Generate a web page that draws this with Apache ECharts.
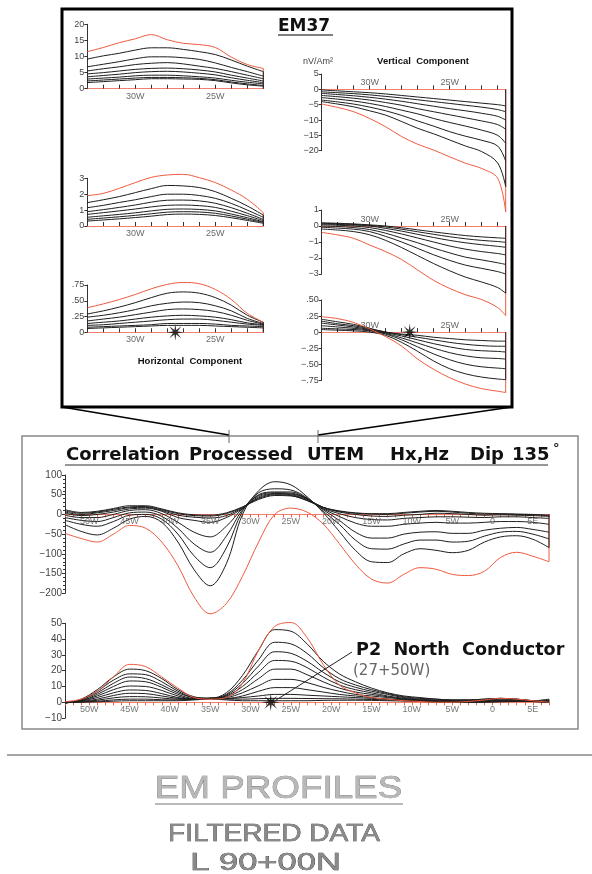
<!DOCTYPE html>
<html><head><meta charset="utf-8">
<script src="https://cdn.jsdelivr.net/npm/echarts@6.0.0/dist/echarts.min.js"></script>
<style>html,body{margin:0;padding:0;background:#fff}#c{width:592px;height:874px}</style>
</head><body><div id="c"></div>
<script>
// ---------- DATA ----------
const hxStations = [-53,-51,-49,-47,-45,-43,-41,-39,-37,-35,-33,-31,-29,-27,-25,-23,-21,-19,-17,-15,-13,-11,-9,-7,-5,-3,-1,1,3,5,7];
const hxRed = [-48,-61,-70,-50,-28,-35,-70,-130,-209,-252,-226,-157,-70,0,16,6,-24,-74,-126,-164,-174,-152,-135,-139,-152,-155,-144,-109,-96,-106,-120];
const hxB1 = [-26,-43,-52,-35,-12,-5,-20,-70,-140,-181,-125,0,60,83,75,45,5,-43,-91,-120,-122,-100,-87,-91,-97,-91,-70,-57,-54,-63,-84];
const hxB2 = [-15,-25,-30,-18,-2,0,-12,-50,-105,-135,-85,8,55,65,62,42,8,-25,-65,-87,-88,-75,-65,-65,-70,-68,-55,-45,-43,-50,-62];
const hxB3 = [-8,-15,-18,-8,4,6,-5,-35,-75,-96,-55,12,50,57,57,40,12,-15,-45,-60,-60,-50,-45,-44,-48,-48,-40,-35,-33,-38,-45];
const hxB4 = [-2,-8,-8,0,10,12,2,-20,-45,-57,-30,15,48,55,54,40,14,-5,-22,-30,-30,-25,-22,-20,-22,-22,-20,-18,-18,-20,-25];
const hxB5 = [3,-3,0,6,14,16,8,-8,-15,-20,-8,15,45,53,52,40,16,2,-8,-13,-14,-10,-8,-6,-6,-7,-8,-6,-6,-8,-10];
const hxB6 = [6,0,4,10,17,18,10,-2,-7,-9,-3,17,42,52,50,38,18,6,0,-4,-5,-2,0,3,2,0,-2,-1,-2,-3,-5];
const hxB7 = [9,3,6,13,19,20,12,2,-3,-4,2,18,40,50,48,36,18,8,3,1,0,3,6,8,6,3,1,1,0,-1,-3];
const hxB8 = [12,5,8,15,22,22,14,4,-1,-2,4,19,38,48,47,35,18,9,4,2,2,5,8,10,8,5,3,2,1,0,-2];

const hzRed = [0.4,2,7,16,24,22.6,16,9,3,2,3,12,33,48,50.5,41,24,11,6,3,2,1,0.5,0,0,0.5,1.5,2.5,2,1,0];
const hzC1 = [-0.5,2,8,16,21,20,15,8,3.5,2.5,6,17,33,46,45,37,26,18,13,9,6,4,3,2,1.5,1.5,2,2.5,2,1,0];
const hzC2 = [-0.5,1.5,7,14,18,17.5,13,7,3,2.5,5,14,27,38,37,31,22,15,11,8,5.5,3.5,2.5,2,1.5,1.5,2,2.5,2,1,0];
const hzC3 = [-0.5,1.5,6,12,16,15,11,6,3,2.5,4.5,12,23,32,31,26,19,13,9.5,7,5,3,2,1.5,1,1,1.5,2,1.5,1,0];
const hzC4 = [-0.3,1,5,10,13.5,13,9.5,5,2.5,2.5,4,10,19,26.5,26,22,16,11,8,6,4,2.5,1.5,1,1,1,1.5,1.5,1,0.5,0];
const hzC5 = [-0.3,1,4,8,10.3,10,7.5,4,2,2.5,3.5,8,15,21,21,17.5,13,9,6.5,5,3.5,2,1.5,1,0.5,0.5,1,1,1,0.5,0];
const hzC6 = [0,0.8,3,6,7.8,7.5,5.5,3,2,2.5,3,6,10.5,14.5,14.5,12.5,9.5,7,5,4,3,2,1,0.5,0.5,0.5,1,1,0.5,0.5,0.5];
const hzC7 = [0,0.5,2,4.3,5.7,5.5,4,2.5,2,2.5,2.5,4,7,9.3,9.3,8,6.5,5,4,3,2,1.5,1,0.5,0,0.5,0.5,1,0.5,0.5,1];
const hzC8 = [0,0.3,1.3,2.8,3.6,3.5,2.7,2,2,2.5,2.3,3,4,5,5,4.5,4,3.5,3,2.5,2,1.5,1,0.5,0,0,0.5,0.5,0.5,0.5,1];
const hzC9 = [0,0.2,0.7,1.5,2,2,1.6,1.5,2,2.5,2,2,2.3,2.5,2.5,2.4,2.3,2.2,2,1.8,1.5,1,0.7,0.3,0,0,0.3,0.5,0.5,0.5,1.5];
const hzC10 = [0,0.1,0.3,0.7,1,1,1,1,1.5,2,1.5,1,1,1,1,1,1.2,1.3,1.3,1.2,1,0.8,0.5,0.2,0,0,0,0.3,0.5,0.8,2];

// EM37 inset - horizontal component (left)
const hStations = [-33,-32,-31,-30,-29,-28,-27,-26,-25,-24,-23,-22];
const h1Red = [11.5,12.8,14.3,15.5,16.8,15.2,14.1,13.7,12.8,9.8,7.5,6.3];
const h1K1 = [9.2,10.2,11,12,12.7,12.7,12.2,11.5,10.6,8.9,7,5.3];
const h1K2 = [6.8,7.6,8.4,9.3,9.9,9.9,9.6,9.1,8,6.6,5.3,3.9];
const h1K3 = [5.5,6.2,6.8,7.5,7.9,8.1,7.7,7,6.3,5.3,4.2,3.1];
const h1K4 = [4.6,5,5.5,6,6.3,6.4,6.2,5.8,5.2,4.2,3.3,2.4];
const h1K5 = [3.7,4.1,4.5,5,5.3,5.4,5.2,4.8,4.3,3.4,2.6,1.9];
const h1K6 = [3,3.3,3.6,4,4.2,4.2,4,3.7,3.3,2.6,2,1.5];
const h1K7 = [2.4,2.7,3,3.3,3.5,3.5,3.4,3.2,2.8,2.1,1.5,1];
const h1K8 = [1.9,2.2,2.5,2.8,3.1,3.1,3,2.9,2.5,1.8,1.2,0.8];

const h2Red = [1.91,2.05,2.37,2.73,3.06,3.21,3.25,3.04,2.73,2.26,1.68,0.84];
const h2J1 = [1.47,1.65,1.85,2.1,2.35,2.55,2.52,2.42,2.16,1.74,1.26,0.69];
const h2J2 = [1.15,1.3,1.48,1.65,1.85,2.0,2.0,1.92,1.74,1.42,1.0,0.55];
const h2J3 = [0.9,1.03,1.17,1.32,1.5,1.62,1.63,1.58,1.43,1.15,0.8,0.42];
const h2J4 = [0.73,0.84,0.95,1.07,1.2,1.3,1.32,1.28,1.17,0.93,0.65,0.34];
const h2J5 = [0.55,0.64,0.73,0.83,0.95,1.05,1.07,1.04,0.95,0.75,0.52,0.27];
const h2J6 = [0.42,0.5,0.58,0.67,0.77,0.87,0.9,0.88,0.8,0.63,0.43,0.23];
const h2J7 = [0.31,0.38,0.45,0.53,0.62,0.72,0.75,0.73,0.66,0.52,0.35,0.17];

const h3Red = [0.39,0.45,0.52,0.6,0.69,0.76,0.79,0.77,0.68,0.52,0.3,0.16];
const h3L1 = [0.29,0.34,0.4,0.47,0.55,0.62,0.64,0.62,0.55,0.43,0.27,0.16];
const h3L2 = [0.24,0.27,0.31,0.36,0.42,0.46,0.48,0.47,0.42,0.34,0.22,0.14];
const h3L3 = [0.18,0.21,0.24,0.28,0.32,0.36,0.37,0.36,0.33,0.27,0.19,0.13];
const h3L4 = [0.14,0.16,0.18,0.21,0.24,0.26,0.27,0.26,0.24,0.2,0.15,0.12];
const h3L5 = [0.11,0.12,0.14,0.16,0.18,0.2,0.21,0.21,0.19,0.16,0.13,0.11];
const h3L6 = [0.08,0.09,0.1,0.11,0.12,0.14,0.14,0.14,0.13,0.11,0.1,0.09];
const h3L7 = [0.06,0.07,0.08,0.09,0.1,0.11,0.11,0.11,0.1,0.09,0.08,0.07];

// EM37 inset - vertical component (right)
const vStations = [-33,-32,-31,-30,-29,-28,-27,-26,-25,-24,-23,-22,-21.5];
const v1Red = [-4.8,-5.9,-7.3,-9.5,-12.2,-15.4,-17.9,-19.8,-22,-24.1,-25.8,-29,-40];
const v1A = [-4,-4.8,-5.7,-7,-8.4,-10.5,-12.7,-14.5,-16.5,-18.5,-20.3,-24,-31.7];
const v1B = [-3.5,-4.1,-4.8,-5.8,-7,-8.5,-10.3,-12,-13.8,-15.3,-16.6,-18.5,-23.4];
const v1C = [-2.7,-3.2,-3.8,-4.6,-5.6,-6.8,-8,-9.5,-10.8,-12,-13.3,-15,-17.6];
const v1D = [-2,-2.4,-2.9,-3.5,-4.3,-5.2,-6.3,-7.3,-8.3,-9.3,-10.3,-11.5,-13];
const v1E = [-1.3,-1.7,-2.1,-2.6,-3.2,-3.9,-4.7,-5.5,-6.3,-7,-7.8,-8.8,-10];
const v1F = [-0.8,-1.1,-1.4,-1.8,-2.3,-2.8,-3.4,-4,-4.6,-5.2,-5.8,-6.6,-7.3];
const v1G = [-0.2,-0.5,-0.8,-1.1,-1.5,-2,-2.5,-3,-3.5,-4,-4.5,-5,-5.4];

const v2Red = [-0.4,-0.56,-0.77,-1.19,-1.6,-2.1,-2.75,-3.4,-3.9,-4.3,-4.6,-5.1,-5.6];
const v2W1 = [-0.19,-0.25,-0.35,-0.55,-0.9,-1.35,-1.85,-2.35,-2.8,-3.2,-3.5,-3.85,-4.2];
const v2W2 = [-0.08,-0.13,-0.2,-0.35,-0.65,-1.0,-1.4,-1.8,-2.15,-2.45,-2.65,-2.85,-3.0];
const v2W3 = [0.0,-0.03,-0.1,-0.22,-0.45,-0.75,-1.05,-1.38,-1.68,-1.95,-2.12,-2.3,-2.4];
const v2W4 = [0.08,0.05,0,-0.1,-0.28,-0.5,-0.75,-1.0,-1.25,-1.45,-1.6,-1.72,-1.81];
const v2W5 = [0.13,0.1,0.06,0,-0.15,-0.32,-0.52,-0.72,-0.9,-1.05,-1.17,-1.27,-1.33];
const v2W6 = [0.17,0.14,0.1,0.04,-0.06,-0.2,-0.36,-0.52,-0.67,-0.8,-0.9,-0.97,-1.02];
const v2W7 = [0.2,0.17,0.13,0.07,0,-0.11,-0.24,-0.37,-0.49,-0.6,-0.68,-0.74,-0.77];

const v3Red = [0.24,0.21,0.15,0.05,-0.07,-0.22,-0.42,-0.58,-0.71,-0.81,-0.88,-0.92,-0.94];
const v3X1 = [0.04,0.03,0.02,0,-0.05,-0.16,-0.3,-0.45,-0.57,-0.65,-0.7,-0.73,-0.74];
const v3X2 = [0.06,0.05,0.04,0.02,-0.03,-0.12,-0.23,-0.34,-0.43,-0.5,-0.54,-0.56,-0.57];
const v3X3 = [0.1,0.08,0.06,0.03,-0.02,-0.09,-0.17,-0.25,-0.32,-0.37,-0.4,-0.41,-0.42];
const v3X4 = [0.14,0.11,0.08,0.04,-0.01,-0.06,-0.12,-0.18,-0.23,-0.27,-0.29,-0.3,-0.31];
const v3X5 = [0.17,0.13,0.1,0.05,0,-0.04,-0.08,-0.12,-0.16,-0.19,-0.21,-0.22,-0.22];
const v3X6 = [0.2,0.16,0.12,0.06,0,-0.03,-0.05,-0.08,-0.1,-0.12,-0.13,-0.14,-0.14];

// tick / label values
const mainLabelStations = [-50,-45,-40,-35,-30,-25,-20,-15,-10,-5,0,5];
const mainTickStations = [-53,-52,-51,-50,-49,-48,-47,-46,-45,-44,-43,-42,-41,-40,-39,-38,-37,-36,-35,-34,-33,-32,-31,-30,-29,-28,-27,-26,-25,-24,-23,-22,-21,-20,-19,-18,-17,-16,-15,-14,-13,-12,-11,-10,-9,-8,-7,-6,-5,-4,-3,-2,-1,0,1,2,3,4,5,6,7];
const insetLabelStations = [-30,-25];
const insetTickStations = [-33,-32,-31,-30,-29,-28,-27,-26,-25,-24,-23,-22];
const conductorStation = -27.5;

// ---------- CHART ----------
const RED = '#ef5a40', BLACK = '#1e1e1e', AX = '#333';
const FONT = 'Liberation Sans';
const chart = echarts.init(document.getElementById('c'), null, {renderer:'canvas'});

function stationFmt(v){ return v < 0 ? (-v) + 'W' : (v === 0 ? '0' : v + 'E'); }
function minusFmt(v){ return String(v).replace('-', '\u2212'); }
function fracFmt(v){
  if (Math.abs(v) < 1e-9) return '0';
  const s = '.' + Math.round(Math.abs(v) * 100).toString().padStart(2, '0');
  return v < 0 ? '\u2212' + s : s;
}

const grids = [
  {left:87.3, top:24.3, width:176, height:64.4},
  {left:87.3, top:178.3, width:176, height:47.7},
  {left:87.3, top:285, width:176, height:47.3},
  {left:321.7, top:74, width:184, height:76.7},
  {left:321.7, top:210, width:184, height:64},
  {left:321.7, top:300, width:184, height:80.3},
  {left:65, top:475, width:484, height:118.3},
  {left:65, top:623.3, width:484, height:94.8}
].map(g => Object.assign({outerBoundsMode:'none', containLabel:false}, g));

const xAxes = [];
const yAxes = [];
function insetX(gi, top, max){
  xAxes.push({gridIndex:gi, type:'value', min:-33, max:max, position: top ? 'top' : 'bottom',
    axisLine:{onZero:true, lineStyle:{color:'#f2806c', width:1.2}},
    axisTick:{show:true, inside: !top, length:4, customValues: insetTickStations, lineStyle:{color:AX}},
    axisLabel:{show:false},
    splitLine:{show:false}});
}
function yAx(gi, min, max, interval, fmt, extra){
  yAxes.push(Object.assign({gridIndex:gi, type:'value', min, max, interval,
    axisLine:{show:true, onZero:false, lineStyle:{color:AX}},
    axisTick:{show:true, length:3, lineStyle:{color:AX}},
    axisLabel:{formatter: fmt, fontFamily:FONT, fontSize:9, color:'#444', margin:3},
    splitLine:{show:false}}, extra || {}));
}
insetX(0,false,-22); insetX(1,false,-22); insetX(2,false,-22);
insetX(3,true,-21.5); insetX(4,true,-21.5); insetX(5,true,-21.5);
yAx(0, 0, 20, 5, minusFmt);
yAx(1, 0, 3, 1, minusFmt);
yAx(2, 0, 0.75, 0.25, fracFmt);
yAx(3, -20, 5, 5, minusFmt);
yAx(4, -3, 1, 1, minusFmt);
yAx(5, -0.75, 0.5, 0.25, fracFmt);

function mainX(gi){
  xAxes.push({gridIndex:gi, type:'value', min:-53, max:7,
    axisLine:{onZero:true, lineStyle:{color:'#f2806c', width:1}},
    axisTick:{show:true, length:3, customValues: mainTickStations, lineStyle:{color:'#f05a40'}},
    axisLabel:{show:false},
    splitLine:{show:false}});
}
mainX(6); mainX(7);
yAx(6, -200, 100, 50, minusFmt, {minorTick:{show:true, splitNumber:5, length:2, lineStyle:{color:AX}}});
yAx(7, -10, 50, 10, minusFmt);
yAxes[6].axisLabel.fontSize = 10; yAxes[7].axisLabel.fontSize = 10;

const series = [];
function curve(gi, stations, vals, color, z){
  series.push({type:'line', xAxisIndex:gi, yAxisIndex:gi, data: stations.map((s,i)=>[s, vals[i]]),
    smooth:0.35, showSymbol:false, clip:false, silent:true, animation:false, z,
    lineStyle:{color, width:1}});
}
function vline(gi, x, y, color, z){
  series.push({type:'line', xAxisIndex:gi, yAxisIndex:gi, data:[[x,0],[x,y]], showSymbol:false,
    clip:false, silent:true, animation:false, z, lineStyle:{color, width:1}});
}
function panel(gi, stations, blacks, red){
  blacks.forEach(b => curve(gi, stations, b, BLACK, 3));
  curve(gi, stations, red, RED, 4);
  const last = stations.length - 1;
  const bEnds = blacks.map(b => b[last]);
  const ext = bEnds.reduce((a, b) => Math.abs(b) > Math.abs(a) ? b : a, 0);
  vline(gi, stations[last], red[last], RED, 2);
  vline(gi, stations[last], ext, BLACK, 5);
}
// station labels placed on the zero line through the axis scale
function stationLabels(gi, stations, pos, size, color){
  series.push({type:'scatter', xAxisIndex:gi, yAxisIndex:gi, data: stations.map(s => [s, 0]),
    symbolSize:0, silent:true, animation:false, clip:false, z:6,
    label:{show:true, position:pos, distance: pos === 'top' ? 2 : 3, formatter: p => stationFmt(p.value[0]),
      fontFamily:FONT, fontSize:size, color}});
}
panel(0, hStations, [h1K1,h1K2,h1K3,h1K4,h1K5,h1K6,h1K7,h1K8], h1Red);
panel(1, hStations, [h2J1,h2J2,h2J3,h2J4,h2J5,h2J6,h2J7], h2Red);
panel(2, hStations, [h3L1,h3L2,h3L3,h3L4,h3L5,h3L6,h3L7], h3Red);
panel(3, vStations, [v1A,v1B,v1C,v1D,v1E,v1F,v1G], v1Red);
panel(4, vStations, [v2W1,v2W2,v2W3,v2W4,v2W5,v2W6,v2W7], v2Red);
panel(5, vStations, [v3X1,v3X2,v3X3,v3X4,v3X5,v3X6], v3Red);
panel(6, hxStations, [hxB1,hxB2,hxB3,hxB4,hxB5,hxB6,hxB7,hxB8], hxRed);
panel(7, hxStations, [hzC1,hzC2,hzC3,hzC4,hzC5,hzC6,hzC7,hzC8,hzC9,hzC10], hzRed);
[0,1,2].forEach(gi => stationLabels(gi, insetLabelStations, 'bottom', 9, '#444'));
[3,4,5].forEach(gi => stationLabels(gi, insetLabelStations, 'top', 9, '#444'));
[6,7].forEach(gi => stationLabels(gi, mainLabelStations, 'bottom', 9, '#555'));

function starPath(n){
  let d = '';
  for (let i = 0; i < 2*n; i++){
    const a = i * Math.PI / n, r = (i % 2) ? 2.8 : 10;
    d += (i ? 'L' : 'M') + (r*Math.cos(a)).toFixed(2) + ' ' + (r*Math.sin(a)).toFixed(2);
  }
  return 'path://' + d + 'Z';
}
const STAR = starPath(8);
[2, 5, 7].forEach(gi => series.push({type:'scatter', xAxisIndex:gi, yAxisIndex:gi,
  data:[[conductorStation, 0]], symbol: STAR, symbolSize: gi === 7 ? 18 : 17, symbolKeepAspect:true,
  itemStyle:{color:'#000'}, z:10, silent:true, animation:false, clip:false}));

function txt(x, y, text, font, opts){
  return Object.assign({type:'text', x, y, z:20, silent:true,
    style:Object.assign({text, font, fill:'#111', textAlign:'left', textVerticalAlign:'middle'}, (opts && opts.style) || {})},
    opts && opts.el || {});
}
function ln(x1, y1, x2, y2, color, w){
  return {type:'line', z:20, silent:true, shape:{x1, y1, x2, y2}, style:{stroke:color, lineWidth:w}};
}
const TB = 'bold 18px "DejaVu Sans"';
const graphic = [
  {type:'rect', z:1, silent:true, shape:{x:62, y:9, width:450, height:398}, style:{fill:'none', stroke:'#000', lineWidth:3}},
  ln(62, 407, 229, 435, '#000', 1.5),
  ln(512, 407, 318, 435, '#000', 1.5),
  {type:'rect', z:1, silent:true, shape:{x:22, y:436, width:556, height:293}, style:{fill:'none', stroke:'#888', lineWidth:1.5}},
  ln(229, 430, 229, 443, '#666', 1),
  ln(318, 430, 318, 443, '#666', 1),
  txt(278, 27, 'EM37', 'bold 17px "DejaVu Sans"'),
  ln(278, 35, 333, 35, '#555', 1.5),
  txt(423, 61, 'Vertical  Component', 'bold 9.5px "Liberation Sans"', {style:{textAlign:'center'}}),
  txt(318, 62, 'nV/Am\u00B2', '9px "Liberation Sans"', {style:{textAlign:'center', fill:'#444'}}),
  txt(190, 361, 'Horizontal  Component', 'bold 9.5px "Liberation Sans"', {style:{textAlign:'center'}}),
  txt(66, 455, 'Correlation', TB),
  txt(189, 455, 'Processed', TB),
  txt(307, 455, 'UTEM', TB),
  txt(390, 455, 'Hx,Hz', TB),
  txt(470, 455, 'Dip', TB),
  txt(512, 455, '135', TB),
  txt(553, 449, '\u00B0', 'bold 13px "DejaVu Sans"'),
  ln(65, 465, 548, 465, '#333', 1.2),
  ln(273, 702, 352, 652, '#222', 1),
  txt(356, 650, 'P2  North  Conductor', 'bold 17.6px "DejaVu Sans"'),
  txt(353, 671, '(27+50W)', '15px "DejaVu Sans"', {style:{fill:'#666'}}),
  ln(7, 755, 592, 755, '#888', 1.5),
  txt(278.5, 789, 'EM PROFILES', '32px "Liberation Sans"', {style:{textAlign:'center', fill:'#b8b8b8', stroke:'#6a6a6a', lineWidth:0.6}, el:{scaleX:1.15}}),
  ln(155, 804, 403, 804, '#777', 1.2),
  txt(274, 835, 'FILTERED DATA', '23px "Liberation Sans"', {style:{textAlign:'center', fill:'#8a8a8a', stroke:'#222', lineWidth:0.5}, el:{scaleX:1.22}}),
  txt(265.5, 864, 'L 90+00N', '23px "Liberation Sans"', {style:{textAlign:'center', fill:'#8a8a8a', stroke:'#222', lineWidth:0.5}, el:{scaleX:1.5}})
];

chart.setOption({
  animation:false,
  backgroundColor:'#fff',
  grid: grids,
  xAxis: xAxes,
  yAxis: yAxes,
  series,
  graphic
});
</script></body></html>
